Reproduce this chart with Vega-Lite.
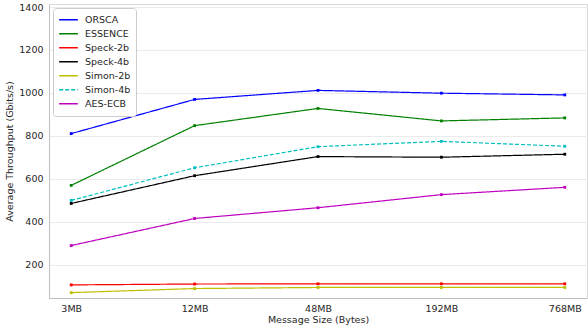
{
  "$schema": "https://vega.github.io/schema/vega-lite/v6.json",
  "width": 538,
  "height": 294,
  "autosize": {"type": "none"},
  "padding": {"left": 49, "top": 4, "right": 1, "bottom": 30},
  "background": "white",
  "config": {
    "font": "DejaVu Sans",
    "view": {"stroke": "#d9d9d9", "strokeWidth": 1},
    "axis": {
      "labelFont": "DejaVu Sans",
      "titleFont": "DejaVu Sans",
      "labelFontSize": 9.5,
      "titleFontSize": 9.5,
      "titleFontWeight": "normal",
      "labelColor": "#262626",
      "titleColor": "#262626",
      "gridColor": "#ebebeb",
      "gridWidth": 1,
      "domainColor": "#bfbfbf",
      "ticks": false,
      "labelPadding": 6
    }
  },
  "data": {
    "values": [
      {"algo": "ORSCA", "size": "3MB", "tput": 811},
      {"algo": "ORSCA", "size": "12MB", "tput": 970},
      {"algo": "ORSCA", "size": "48MB", "tput": 1012},
      {"algo": "ORSCA", "size": "192MB", "tput": 999},
      {"algo": "ORSCA", "size": "768MB", "tput": 991},
      {"algo": "ESSENCE", "size": "3MB", "tput": 570},
      {"algo": "ESSENCE", "size": "12MB", "tput": 848},
      {"algo": "ESSENCE", "size": "48MB", "tput": 928},
      {"algo": "ESSENCE", "size": "192MB", "tput": 870},
      {"algo": "ESSENCE", "size": "768MB", "tput": 884},
      {"algo": "Speck-2b", "size": "3MB", "tput": 107},
      {"algo": "Speck-2b", "size": "12MB", "tput": 111},
      {"algo": "Speck-2b", "size": "48MB", "tput": 112},
      {"algo": "Speck-2b", "size": "192MB", "tput": 112},
      {"algo": "Speck-2b", "size": "768MB", "tput": 112},
      {"algo": "Speck-4b", "size": "3MB", "tput": 486},
      {"algo": "Speck-4b", "size": "12MB", "tput": 615},
      {"algo": "Speck-4b", "size": "48MB", "tput": 704},
      {"algo": "Speck-4b", "size": "192MB", "tput": 701},
      {"algo": "Speck-4b", "size": "768MB", "tput": 715},
      {"algo": "Simon-2b", "size": "3MB", "tput": 71},
      {"algo": "Simon-2b", "size": "12MB", "tput": 90},
      {"algo": "Simon-2b", "size": "48MB", "tput": 95},
      {"algo": "Simon-2b", "size": "192MB", "tput": 95},
      {"algo": "Simon-2b", "size": "768MB", "tput": 95},
      {"algo": "Simon-4b", "size": "3MB", "tput": 500},
      {"algo": "Simon-4b", "size": "12MB", "tput": 652},
      {"algo": "Simon-4b", "size": "48MB", "tput": 750},
      {"algo": "Simon-4b", "size": "192MB", "tput": 775},
      {"algo": "Simon-4b", "size": "768MB", "tput": 752},
      {"algo": "AES-ECB", "size": "3MB", "tput": 290},
      {"algo": "AES-ECB", "size": "12MB", "tput": 416},
      {"algo": "AES-ECB", "size": "48MB", "tput": 466},
      {"algo": "AES-ECB", "size": "192MB", "tput": 527},
      {"algo": "AES-ECB", "size": "768MB", "tput": 561}
    ]
  },
  "encoding": {
    "x": {
      "field": "size",
      "type": "ordinal",
      "sort": ["3MB", "12MB", "48MB", "192MB", "768MB"],
      "scale": {"type": "point", "padding": 0.18},
      "axis": {"title": "Message Size (Bytes)", "labelAngle": 0, "titlePadding": 2, "labelPadding": 5}
    },
    "y": {
      "field": "tput",
      "type": "quantitative",
      "scale": {"domain": [46, 1414], "nice": false, "zero": false},
      "axis": {"title": "Average Throughput (Gbits/s)", "values": [200, 400, 600, 800, 1000, 1200, 1400], "format": "d", "titlePadding": 4, "domain": true}
    },
    "color": {
      "field": "algo",
      "type": "nominal",
      "scale": {
        "domain": ["ORSCA", "ESSENCE", "Speck-2b", "Speck-4b", "Simon-2b", "Simon-4b", "AES-ECB"],
        "range": ["#0000ff", "#008000", "#ff0000", "#000000", "#bfbf00", "#00bfbf", "#bf00bf"]
      },
      "legend": {
        "title": null,
        "orient": "top-left",
        "offset": 4,
        "fillColor": "white",
        "strokeColor": "#cccccc",
        "cornerRadius": 3,
        "padding": 5,
        "labelFont": "DejaVu Sans",
        "labelFontSize": 9.5,
        "labelColor": "#262626",
        "symbolType": "stroke",
        "symbolSize": 350,
        "symbolStrokeWidth": 1.5,
        "clipHeight": 13.4,
        "rowPadding": 0,
        "labelOffset": 6
      }
    },
    "strokeDash": {
      "field": "algo",
      "type": "nominal",
      "scale": {
        "domain": ["ORSCA", "ESSENCE", "Speck-2b", "Speck-4b", "Simon-2b", "Simon-4b", "AES-ECB"],
        "range": [[1, 0], [1, 0], [1, 0], [1, 0], [1, 0], [4, 2], [1, 0]]
      },
      "legend": null
    }
  },
  "layer": [
    {"mark": {"type": "line", "strokeWidth": 1.2}},
    {"mark": {"type": "point", "shape": "square", "filled": true, "size": 8, "opacity": 1}}
  ]
}
